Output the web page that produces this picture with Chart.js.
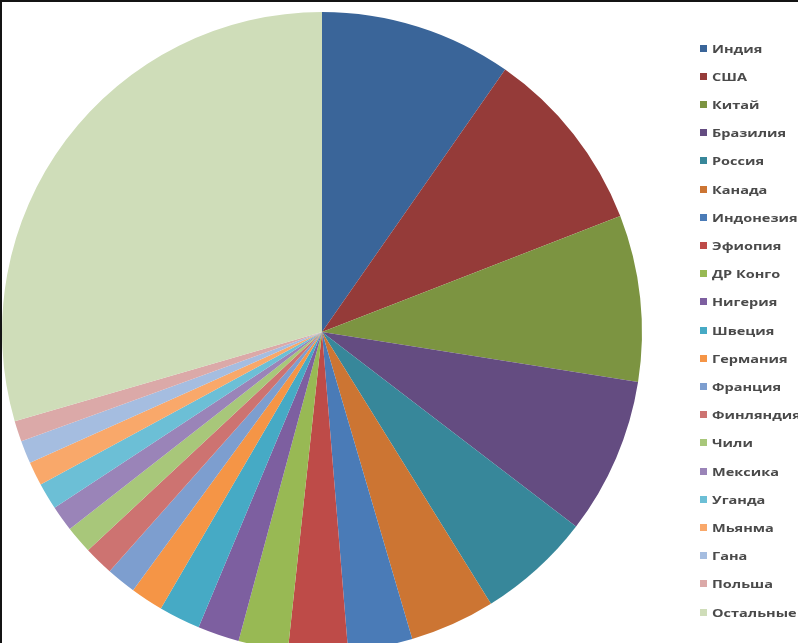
<!DOCTYPE html>
<html lang="ru">
<head>
<meta charset="utf-8">
<title>Доли стран</title>
<script src="https://cdn.jsdelivr.net/npm/chart.js@4.4.1/dist/chart.umd.min.js"></script>
<style>
    html, body {
        margin: 0;
        padding: 0;
        background: #ffffff;
        overflow: hidden;
    }
    .frame {
        position: relative;
        width: 798px;
        height: 643px;
        overflow: hidden;
    }
    .frame canvas {
        position: absolute;
        left: 0;
        top: 0;
    }
    .edge-top {
        position: absolute;
        left: 0;
        top: 0;
        width: 798px;
        height: 2px;
        background: #141414;
    }
    .edge-left {
        position: absolute;
        left: 0;
        top: 0;
        width: 2px;
        height: 643px;
        background: #141414;
    }
    .legend {
        position: absolute;
        left: 0;
        top: 0;
        font-family: 'Open Sans', sans-serif;
        font-size: 11px;
        font-weight: 700;
        color: #4a4a4a;
    }
    .legend-item {
        position: absolute;
        left: 700px;
        height: 14px;
        line-height: 14px;
        white-space: nowrap;
    }
    .legend-box {
        position: absolute;
        left: 0;
        top: 3px;
        width: 7px;
        height: 7px;
    }
    .legend-text {
        position: absolute;
        left: 12px;
        top: 0;
        transform: scaleX(1.32);
        transform-origin: left center;
    }
</style>
</head>
<body>
<div class="frame">
    <canvas id="pieChart" width="798" height="662"></canvas>
    <div class="legend" id="legend"></div>
    <div class="edge-top"></div>
    <div class="edge-left"></div>
</div>
<script>
// Data (shares, %)
const countries = ['Индия', 'США', 'Китай', 'Бразилия', 'Россия', 'Канада', 'Индонезия',
    'Эфиопия', 'ДР Конго', 'Нигерия', 'Швеция', 'Германия', 'Франция', 'Финляндия',
    'Чили', 'Мексика', 'Уганда', 'Мьянма', 'Гана', 'Польша', 'Остальные'];
const shares = [9.7, 9.4, 8.4, 7.9, 5.75, 4.3, 3.25, 3.0, 2.5, 2.1, 2.1, 1.65, 1.5, 1.5,
    1.4, 1.3, 1.35, 1.2, 1.15, 1.05, 29.5];
const sliceColors = ['#3A6599', '#953B39', '#7C9441', '#644C81', '#37879A', '#CC7533',
    '#4A7BB7', '#BE4B48', '#98B954', '#7D5FA0', '#46AAC5', '#F59546', '#7D9ECF',
    '#CD7371', '#A8C77A', '#9A84B8', '#6CBFD6', '#F9A86A', '#A5BDE0', '#DBA9A8', '#CFDDB9'];

document.addEventListener('DOMContentLoaded', function() {
    initPie();
    buildLegend();
});

function initPie() {
    const ctx = document.getElementById('pieChart');
    new Chart(ctx, {
        type: 'pie',
        data: {
            labels: countries,
            datasets: [{
                data: shares,
                backgroundColor: sliceColors,
                borderWidth: 0
            }]
        },
        options: {
            responsive: false,
            animation: false,
            layout: {
                padding: { left: 2, top: 12, right: 156, bottom: 10 }
            },
            plugins: {
                legend: { display: false },
                tooltip: { enabled: false }
            }
        }
    });
}

function buildLegend() {
    // Legend on the right, one row per country
    const legend = document.getElementById('legend');
    const firstRow = 48.5;
    const rowStep = 28.2;
    countries.forEach(function(name, i) {
        const item = document.createElement('div');
        item.className = 'legend-item';
        item.style.top = (firstRow + i * rowStep - 7) + 'px';
        item.innerHTML = '<span class="legend-box" style="background:' + sliceColors[i] + '"></span>' +
            '<span class="legend-text">' + name + '</span>';
        legend.appendChild(item);
    });
}
</script>
</body>
</html>
